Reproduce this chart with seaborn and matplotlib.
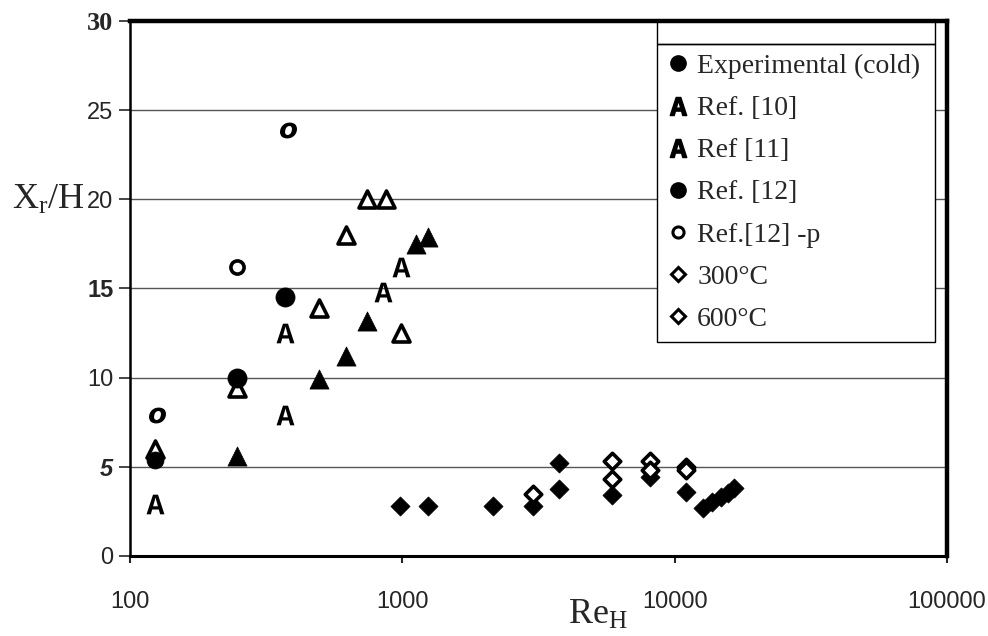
import numpy as np
import pandas as pd
import matplotlib
matplotlib.use('Agg')
import matplotlib.pyplot as plt
from matplotlib.lines import Line2D
from matplotlib.patches import Rectangle
import seaborn as sns

# Werte (Re_H, Xr/H)
exp_cold_re = [247, 371]
exp_cold_xr = [10.0, 14.5]

ref10_re = [123, 248, 494, 621, 741, 869, 988]
ref10_xr = [6.0, 9.4, 13.9, 18.0, 20.0, 20.0, 12.5]
ref10_glyph_re = [123, 371, 371, 848, 988]
ref10_glyph_xr = [2.9, 7.9, 12.5, 14.8, 16.2]

ref11_re = [248, 494, 621, 741, 1123, 1242]
ref11_xr = [5.6, 9.9, 11.2, 13.2, 17.5, 17.9]

ref12_re = [123]
ref12_xr = [5.4]
ref12p_re = [247]
ref12p_xr = [16.2]
ref12p_glyph_re = [126, 380]
ref12p_glyph_xr = [7.9, 23.9]

t300_re = [3013, 5878, 5878, 8090, 8090, 10960, 10960]
t300_xr = [3.5, 5.3, 4.3, 5.3, 4.8, 5.0, 4.8]
t600_re = [980, 1242, 2148, 3013, 3750, 3750, 5878, 8090, 10960, 12700, 13700, 14800, 15700, 16500]
t600_xr = [2.8, 2.8, 2.8, 2.8, 3.75, 5.2, 3.4, 4.45, 3.6, 2.7, 3.0, 3.3, 3.55, 3.8]

legend_labels = ['Experimental (cold)', 'Ref. [10]', 'Ref [11]', 'Ref. [12]',
                 'Ref.[12] -p', '300°C', '600°C']

sns.set_style('ticks')
plt.rcParams['font.family'] = ['Liberation Sans', 'DejaVu Sans']
plt.rcParams['mathtext.fontset'] = 'custom'
plt.rcParams['mathtext.rm'] = 'Liberation Serif'
plt.rcParams['mathtext.it'] = 'Liberation Serif:italic'
plt.rcParams['mathtext.tt'] = 'Liberation Mono:bold'

fig = plt.figure(figsize=(9.88, 6.36), dpi=100)
ax = fig.add_axes([0.1316, 0.1258, 0.8269, 0.8412])

def df(x, y):
    return pd.DataFrame({'Re': x, 'Xr': y})

glyph_A = r'$\mathtt{A}$'
glyph_o = r'$\boldsymbol{o}$'

# Diamanten
sns.scatterplot(data=df(t600_re, t600_xr), x='Re', y='Xr', ax=ax, marker='D', s=95,
                color='black', edgecolor='black', linewidth=0.5, zorder=3)
sns.scatterplot(data=df(t300_re, t300_xr), x='Re', y='Xr', ax=ax, marker='D', s=70,
                facecolor='white', edgecolor='black', linewidth=2.6, zorder=4)
# Dreiecke
sns.scatterplot(data=df(ref10_re, ref10_xr), x='Re', y='Xr', ax=ax, marker='^', s=150,
                facecolor='white', edgecolor='black', linewidth=2.6, zorder=3)
sns.scatterplot(data=df(ref11_re, ref11_xr), x='Re', y='Xr', ax=ax, marker='^', s=190,
                color='black', edgecolor='black', linewidth=0.5, zorder=3)
sns.scatterplot(data=df(ref10_glyph_re, ref10_glyph_xr), x='Re', y='Xr', ax=ax, marker=glyph_A,
                s=200, color='black', linewidth=0, zorder=3)
# Kreise
sns.scatterplot(data=df(exp_cold_re, exp_cold_xr), x='Re', y='Xr', ax=ax, marker='o', s=190,
                color='black', edgecolor='black', linewidth=0.5, zorder=4)
sns.scatterplot(data=df(ref12_re, ref12_xr), x='Re', y='Xr', ax=ax, marker='o', s=150,
                color='black', edgecolor='black', linewidth=0.5, zorder=4)
sns.scatterplot(data=df(ref12p_re, ref12p_xr), x='Re', y='Xr', ax=ax, marker='o', s=90,
                facecolor='white', edgecolor='black', linewidth=2.6, zorder=4)
sns.scatterplot(data=df(ref12p_glyph_re, ref12p_glyph_xr), x='Re', y='Xr', ax=ax, marker=glyph_o,
                s=150, color='black', linewidth=0, zorder=4)

ax.set_xscale('log')
ax.set_xlim(100, 100000)
ax.set_ylim(0, 30)
ax.set_xticks([100, 1000, 10000, 100000])
ax.set_xticklabels(['100', '1000', '10000', '100000'])
ax.xaxis.set_minor_locator(matplotlib.ticker.NullLocator())
ax.set_yticks([0, 5, 10, 15, 20, 25, 30])
ax.set_yticklabels(['0', '5', '10', '15', '20', '25', '30'])
ax.tick_params(axis='x', direction='out', length=5, width=1.5, labelsize=17, pad=20)
ax.tick_params(axis='y', direction='out', length=8, width=1.2, labelsize=17, pad=4)

# gemischte Schriften der y-Achse wie im Scan
ylab_styles = [
    dict(family='Liberation Sans'),
    dict(family='Liberation Sans', weight='bold', style='italic'),
    dict(family='Liberation Sans'),
    dict(family='Liberation Sans', weight='bold'),
    dict(family='Liberation Sans'),
    dict(family='Liberation Sans'),
    dict(family='Liberation Serif', weight='bold', size=19),
]
for lab, st in zip(ax.get_yticklabels(), ylab_styles):
    lab.set_family(st['family'])
    lab.set_weight(st.get('weight', 'normal'))
    lab.set_style(st.get('style', 'normal'))
    lab.set_size(st.get('size', 17))

ax.yaxis.grid(True, color='#555555', linewidth=1)
ax.xaxis.grid(False)
ax.set_axisbelow(True)

for side, lw in [('left', 1.8), ('bottom', 2.2), ('top', 3.2), ('right', 3.2)]:
    ax.spines[side].set_visible(True)
    ax.spines[side].set_linewidth(lw)
    ax.spines[side].set_color('black')

ax.set_xlabel(r'Re$_\mathregular{H}$', fontsize=26, family='Liberation Serif')
ax.xaxis.set_label_coords(0.573, -0.08)
ax.set_ylabel(r'X$_\mathregular{r}$/H', fontsize=26, family='Liberation Serif',
              rotation=0, ha='center', va='center')
ax.yaxis.set_label_coords(-0.10, 0.665)

# Legende
handles = [
    Line2D([], [], ls='none', marker='o', ms=11, color='black'),
    Line2D([], [], ls='none', marker=glyph_A, ms=13, color='black'),
    Line2D([], [], ls='none', marker=glyph_A, ms=13, color='black'),
    Line2D([], [], ls='none', marker='o', ms=11, color='black'),
    Line2D([], [], ls='none', marker='o', ms=8, mfc='white', mec='black', mew=2.2),
    Line2D([], [], ls='none', marker='D', ms=7, mfc='white', mec='black', mew=2.2),
    Line2D([], [], ls='none', marker='D', ms=7, mfc='white', mec='black', mew=2.2),
]
leg = ax.legend(handles, legend_labels, loc='upper left', bbox_to_anchor=(0.645, 0, 0.34, 0.957),
                mode='expand', frameon=True, fancybox=False, edgecolor='black', framealpha=1,
                prop={'family': 'Liberation Serif', 'size': 20}, handlelength=0.8,
                handletextpad=0.3, borderpad=0.35, labelspacing=0.6, borderaxespad=0)
leg.get_frame().set_linewidth(1.0)
leg.set_zorder(10)
ax.add_patch(Rectangle((0.645, 0.957), 0.34, 0.043, transform=ax.transAxes, fill=False,
                       edgecolor='black', linewidth=1.0, zorder=11, clip_on=False))

fig.savefig('out.png', dpi=100)
